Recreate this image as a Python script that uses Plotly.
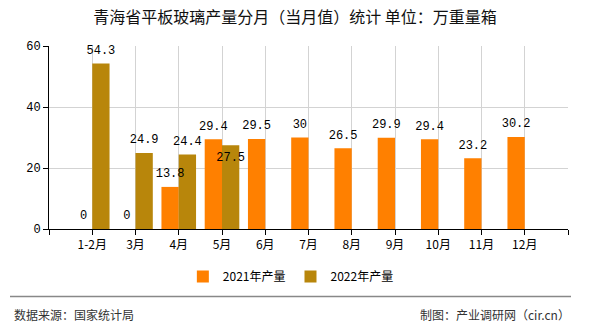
import plotly.graph_objects as go

# Monthly flat-glass output, Qinghai (unit: 10k weight cases)
months = ["1-2月", "3月", "4月", "5月", "6月", "7月", "8月", "9月", "10月", "11月", "12月"]
output_2021 = [0, 0, 13.8, 29.4, 29.5, 30, 26.5, 29.9, 29.4, 23.2, 30.2]
output_2022 = [54.3, 24.9, 24.4, 27.5]
y_ticks = [0, 20, 40, 60]

series_names = ["2021年产量", "2022年产量"]
colors = ["#FF8000", "#B8860B"]

pos = list(range(len(months)))
pos_2022 = pos[:len(output_2022)]
half = 0.2  # each bar takes 0.4 of a category slot (bargap 0.2, two series)

label_font = dict(family="Liberation Mono, DejaVu Sans Mono, monospace", size=12, color="#000000")
cjk_font = "Noto Sans CJK SC, Liberation Sans, sans-serif"
# invisible marker used only to space the value labels off the bar tops
spacer = dict(size=9, opacity=0)

fig = go.Figure()
fig.add_trace(go.Bar(
    x=pos, y=output_2021, name=series_names[0],
    marker=dict(color=colors[0], line=dict(width=0)),
))
fig.add_trace(go.Bar(
    x=pos_2022, y=output_2022, name=series_names[1],
    marker=dict(color=colors[1], line=dict(width=0)),
))

# value labels drawn on top of all bars
fig.add_trace(go.Scatter(
    x=[p - half for p in pos], y=output_2021, mode="markers+text", marker=spacer,
    text=[f"{v:g}" for v in output_2021], textposition="top center",
    textfont=label_font, showlegend=False, hoverinfo="skip", cliponaxis=False,
))
# the last 2022 label sits just under its bar top, clear of the 2021 label
fig.add_trace(go.Scatter(
    x=[p + half for p in pos_2022], y=output_2022, mode="markers+text", marker=spacer,
    text=[f"{v:g}" for v in output_2022],
    textposition=["top center"] * (len(output_2022) - 1) + ["bottom center"],
    textfont=label_font, showlegend=False, hoverinfo="skip", cliponaxis=False,
))

tick_positions = [-1] + pos + [len(months)]
tick_text = [""] + months + [""]

fig.update_layout(
    width=590, height=330,
    margin=dict(l=49, r=22, t=46, b=101),
    paper_bgcolor="white", plot_bgcolor="white",
    barmode="group", bargap=0.2, bargroupgap=0,
    title=dict(
        text="青海省平板玻璃产量分月（当月值）统计 单位：万重量箱",
        x=0.5, xref="container", xanchor="center",
        y=1 - 17 / 330, yref="container", yanchor="middle",
        font=dict(family=cjk_font, size=16, color="#111111"),
    ),
    xaxis=dict(
        range=[-1, len(months)],
        tickmode="array", tickvals=tick_positions, ticktext=tick_text,
        showgrid=True, gridcolor="#D3D3D3", gridwidth=1,
        showline=True, linecolor="#000000", linewidth=1,
        ticks="outside", ticklen=5, tickcolor="#000000",
        tickfont=dict(family=cjk_font, size=12, color="#000000"),
        zeroline=False,
    ),
    yaxis=dict(
        range=[0, 60],
        tickmode="array", tickvals=y_ticks,
        showgrid=True, gridcolor="#D3D3D3", gridwidth=1,
        showline=True, linecolor="#000000", linewidth=1,
        ticks="outside", ticklen=5, tickcolor="#000000",
        tickfont=dict(family=label_font["family"], size=12, color="#000000"),
        zeroline=False,
    ),
    legend=dict(
        orientation="h", x=0.466, xanchor="center",
        y=-0.26, yanchor="middle",
        font=dict(family=cjk_font, size=12, color="#000000"),
        itemwidth=30, traceorder="normal",
    ),
    showlegend=True,
)

# footer rule and source / credit lines
fig.add_shape(type="line", xref="paper", yref="paper",
              x0=(10 - 49) / 519, x1=(571 - 49) / 519,
              y0=(229.3 - 297) / 183.3, y1=(229.3 - 297) / 183.3,
              line=dict(color="#888888", width=1.5))
fig.add_annotation(text="数据来源：国家统计局", xref="paper", yref="paper",
                   x=(12 - 49) / 519, y=(229.3 - 315) / 183.3,
                   xanchor="left", yanchor="middle", showarrow=False,
                   font=dict(family=cjk_font, size=12, color="#333333"))
fig.add_annotation(text="制图：产业调研网（cir.cn）", xref="paper", yref="paper",
                   x=(572 - 49) / 519, y=(229.3 - 315) / 183.3,
                   xanchor="right", yanchor="middle", showarrow=False,
                   font=dict(family=cjk_font, size=12, color="#333333"))

fig.write_html("out.html")
